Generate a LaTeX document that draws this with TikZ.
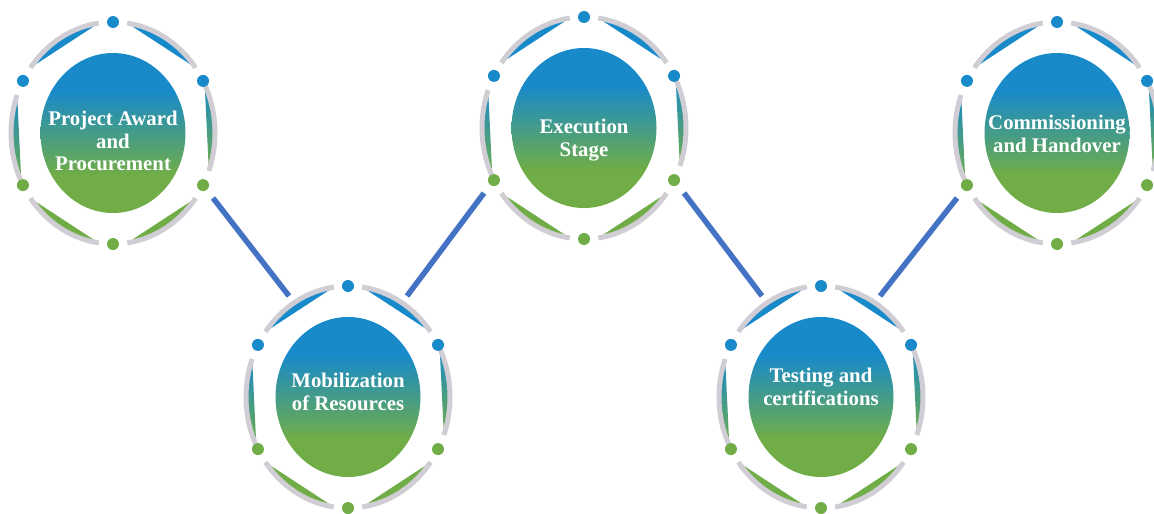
\documentclass[tikz,border=0pt]{standalone}
\usepackage{fontspec}
\setmainfont{Liberation Serif}
\usetikzlibrary{shapes.geometric}
\definecolor{stageblue}{RGB}{24,138,201}
\definecolor{stagegreen}{RGB}{112,173,71}
\definecolor{ringgray}{RGB}{208,206,212}
\definecolor{linkblue}{RGB}{68,114,196}
\colorlet{stageteal}{stageblue!50!stagegreen}
\pgfdeclareverticalshading{stagefade}{100bp}{color(0bp)=(stagegreen); color(37bp)=(stagegreen); color(50bp)=(stageteal); color(63bp)=(stageblue); color(100bp)=(stageblue)}
\tikzset{
  core/.style={ellipse, shading=stagefade, minimum width=145pt, minimum height=160pt, inner sep=0pt},
  stagetext/.style={text=white, font=\bfseries\fontsize{20.8}{22.5}\selectfont, align=center, inner sep=0pt},
  ring/.style={line width=5pt, draw=ringgray},
  link/.style={line width=5.5pt, draw=linkblue}
}

\begin{document}
\begin{tikzpicture}[x=1pt,y=1pt]
\useasboundingbox (0,0) rectangle (1154,-514);

% stages
\foreach \n/\x/\y/\dy/\txt in {
  award/113/-133/8/{Project Award\\and\\Procurement},
  mobil/348/-397/-5/{Mobilization\\of Resources},
  exec/584/-128/12/{Execution\\Stage},
  test/821/-397/-10/{Testing and\\certifications},
  comm/1057/-133/1/{Commissioning\\and Handover}} {
  % coloured segments
  \foreach \a/\col in {28/stageblue, 90/stageblue, 208/stagegreen, 270/stagegreen}
    \fill[\col] plot[domain=\a+8:\a+54, samples=25, variable=\t] ({\x+102*cos(\t)},{\y+111*sin(\t)}) -- cycle;
  \foreach \a in {152,332}
    \shade[top color=stageblue, bottom color=stagegreen] plot[domain=\a+8:\a+54, samples=25, variable=\t] ({\x+102*cos(\t)},{\y+111*sin(\t)}) -- cycle;
  % gray ring
  \foreach \a in {28,90,152,208,270,332}
    \draw[ring] plot[domain=\a+8:\a+54, samples=25, variable=\t] ({\x+102*cos(\t)},{\y+111*sin(\t)});
  % dots
  \foreach \a in {28,90,152}
    \fill[stageblue] ({\x+102*cos(\a)},{\y+111*sin(\a)}) circle (6);
  \foreach \a in {208,270,332}
    \fill[stagegreen] ({\x+102*cos(\a)},{\y+111*sin(\a)}) circle (6);
  \node[core] (\n) at (\x,\y) {};
  \node[stagetext] (\n-txt) at ({\x},{\y-(\dy)}) {\txt};
  % link ends
  \coordinate (\n-ll) at (\x-100,\y-65);
  \coordinate (\n-lr) at (\x+100,\y-65);
  \coordinate (\n-ul) at (\x-59,\y+101);
  \coordinate (\n-ur) at (\x+59,\y+101);
}

% links
\draw[link] (award-lr) -- (mobil-ul);
\draw[link] (mobil-ur) -- (exec-ll);
\draw[link] (exec-lr) -- (test-ul);
\draw[link] (test-ur) -- (comm-ll);

\end{tikzpicture}
\end{document}
